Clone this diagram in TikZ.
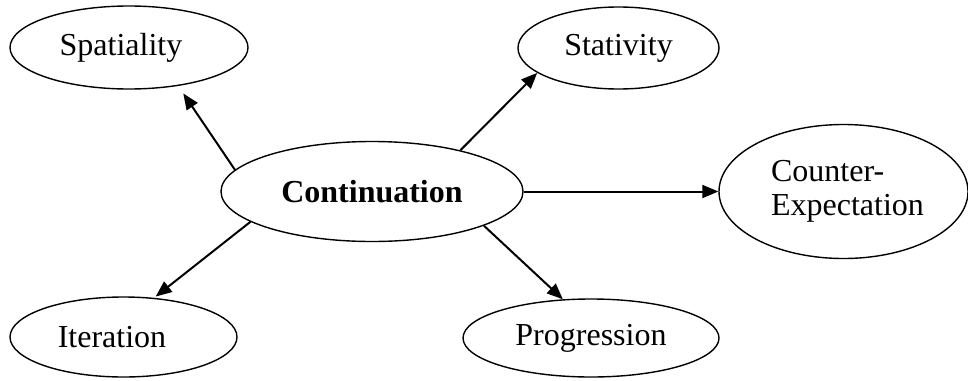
\documentclass[tikz,border=0pt]{standalone}
\usepackage{fontspec}
\setmainfont{Liberation Serif}
\usetikzlibrary{shapes.geometric,arrows.meta}

\begin{document}
\begin{tikzpicture}[x=0.5pt, y=-0.5pt,
  topic/.style={draw, ellipse, line width=0.7pt, inner sep=0pt, font=\fontsize{16}{17}\selectfont},
  link/.style={line width=1pt, -{Triangle[length=8pt, width=6.5pt]}}]
\useasboundingbox (0,0) rectangle (968,380);
% centre and satellites
\node[topic, minimum width=151pt, minimum height=50pt, font=\fontsize{16}{17}\selectfont\bfseries] (cont) at (372,191.5) {Continuation};
\node[topic, minimum width=119pt, minimum height=41.5pt] (spat) at (129,47.5) {Spatiality\hspace*{8pt}};
\node[topic, minimum width=100.5pt, minimum height=41pt] (stat) at (618.5,48) {Stativity};
\node[topic, minimum width=124.5pt, minimum height=67pt, align=left] (cexp) at (843.5,191.5) {\hspace*{4pt}Counter-\\\hspace*{4pt}Expectation};
\node[topic, minimum width=113.5pt, minimum height=40pt] (iter) at (123.5,337) {Iteration\hspace*{11.5pt}};
\node[topic, minimum width=128pt, minimum height=39pt] (prog) at (591,338) {Progression};
% arrows
\draw[link, shorten >=4.5pt] (cont.171) -- (spat.-38);
\draw[link] (cont.25) -- (stat.197);
\draw[link] (cont.east) -- (cexp.west);
\draw[link, shorten >=1pt] (cont.194) -- (iter.52);
\draw[link] (cont.-17.5) -- (prog.126);
\end{tikzpicture}
\end{document}
